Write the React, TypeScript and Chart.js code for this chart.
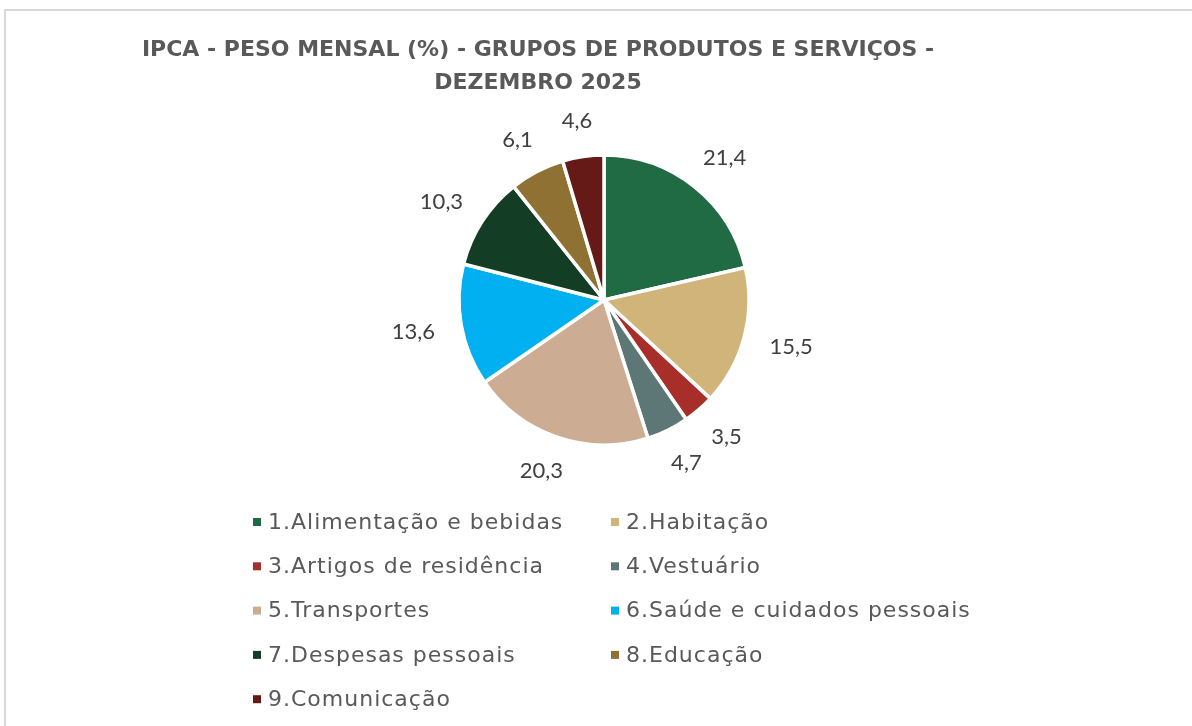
import React, { useEffect, useRef } from "react";
import { Chart, registerables } from "chart.js";

Chart.register(...registerables);

const categories = [
  "1.Alimentação e bebidas",
  "2.Habitação",
  "3.Artigos de residência",
  "4.Vestuário",
  "5.Transportes",
  "6.Saúde e cuidados pessoais",
  "7.Despesas pessoais",
  "8.Educação",
  "9.Comunicação",
];
const weights = [21.4, 15.5, 3.5, 4.7, 20.3, 13.6, 10.3, 6.1, 4.6];
const sliceColors = [
  "#206A44",
  "#D1B47A",
  "#A82E2A",
  "#5C7776",
  "#CCAD94",
  "#00B0F0",
  "#143D26",
  "#8F7133",
  "#661A17",
];
const titleLines = [
  "IPCA - PESO MENSAL (%) - GRUPOS DE PRODUTOS E SERVIÇOS -",
  "DEZEMBRO 2025",
];

const TITLE_FONT = "bold 22px 'DejaVu Sans'";
const LABEL_FONT = "22px Lato";
const LEGEND_FONT = "22px 'DejaVu Sans'";

const titlePlugin = {
  id: "customTitle",
  afterDraw(chart: any) {
    const ctx = chart.ctx;
    ctx.save();
    ctx.font = TITLE_FONT;
    ctx.fillStyle = "#595959";
    ctx.textAlign = "center";
    ctx.textBaseline = "middle";
    const cx = 538;
    titleLines.forEach((line, i) => {
      ctx.fillText(line, cx, 50 + i * 33);
    });
    ctx.restore();
  },
};

const labelPlugin = {
  id: "outsideLabels",
  afterDatasetsDraw(chart: any) {
    const ctx = chart.ctx;
    const meta = chart.getDatasetMeta(0);
    ctx.save();
    ctx.font = LABEL_FONT;
    ctx.fillStyle = "#404040";
    ctx.textAlign = "center";
    ctx.textBaseline = "middle";
    const gap = 27;
    const h = 18;
    meta.data.forEach((arc: any, i: number) => {
      const p = arc.getProps(["x", "y", "startAngle", "endAngle", "outerRadius"], true);
      const mid = (p.startAngle + p.endAngle) / 2;
      const text = weights[i].toFixed(1).replace(".", ",");
      const w = ctx.measureText(text).width;
      const r = p.outerRadius + gap;
      const tx = p.x + Math.cos(mid) * r + Math.cos(mid) * (w / 2);
      const ty = p.y + Math.sin(mid) * r + Math.sin(mid) * (h / 2);
      ctx.fillText(text, tx, ty);
    });
    ctx.restore();
  },
};

const legendPlugin = {
  id: "gridLegend",
  afterDraw(chart: any) {
    const ctx = chart.ctx;
    ctx.save();
    ctx.font = LEGEND_FONT;
    try {
      (ctx as any).letterSpacing = "1px";
    } catch (e) {}
    ctx.textBaseline = "middle";
    ctx.textAlign = "left";
    const colX = [253, 611];
    const y0 = 522;
    const rowGap = 44.3;
    const box = 8;
    categories.forEach((cat, i) => {
      const col = i % 2;
      const row = Math.floor(i / 2);
      const x = colX[col];
      const y = y0 + row * rowGap;
      ctx.fillStyle = sliceColors[i];
      ctx.fillRect(x, y - box / 2, box, box);
      ctx.fillStyle = "#595959";
      ctx.fillText(cat, x + 15, y + 1);
    });
    ctx.restore();
  },
};

export default function App() {
  const canvasRef = useRef<HTMLCanvasElement | null>(null);

  useEffect(() => {
    if (!canvasRef.current) return;
    const chart = new Chart(canvasRef.current, {
      type: "pie",
      data: {
        labels: categories,
        datasets: [
          {
            data: weights,
            backgroundColor: sliceColors,
            borderColor: "#FFFFFF",
            borderWidth: 3.5,
          },
        ],
      },
      options: {
        animation: false,
        responsive: false,
        devicePixelRatio: 1,
        radius: 145,
        layout: {
          padding: { top: 150, bottom: 276, left: 454, right: 438 },
        },
        plugins: {
          legend: { display: false },
          title: { display: false },
          tooltip: { enabled: false },
        },
      },
      plugins: [titlePlugin, labelPlugin, legendPlugin],
    });
    return () => chart.destroy();
  }, []);

  return (
    <>
      <div
        style={{
          position: "fixed",
          left: 4,
          top: 9,
          width: 1300,
          height: 900,
          borderTop: "2px solid #D9D9D9",
          borderLeft: "2px solid #D9D9D9",
          boxSizing: "border-box",
        }}
      />
      <canvas
        ref={canvasRef}
        width={1192}
        height={726}
        style={{ position: "fixed", left: 0, top: 0, width: 1192, height: 726, display: "block" }}
      />
    </>
  );
}
